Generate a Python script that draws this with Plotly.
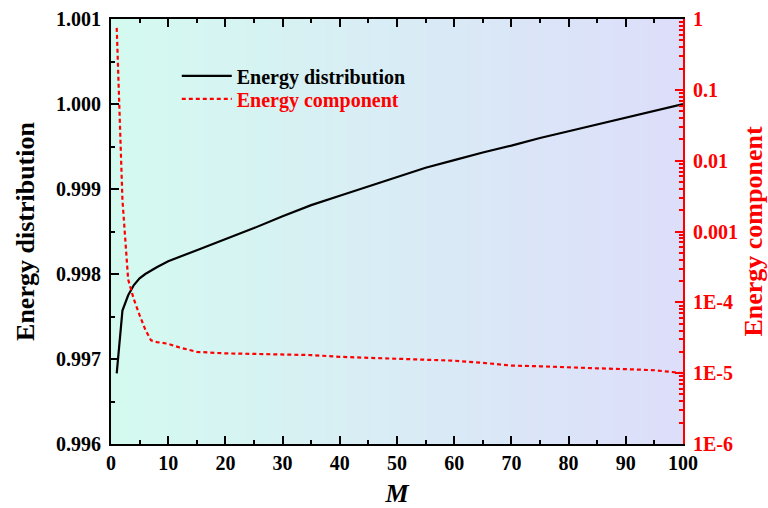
import plotly.graph_objects as go

# Cumulative energy distribution versus number of modes M
m_dist = [1, 2, 3, 4, 5, 6, 8, 10, 15, 20, 25, 30, 35, 40, 45, 50,
          55, 60, 65, 70, 75, 80, 85, 90, 95, 100]
energy_dist = [0.99683, 0.99757, 0.99775, 0.99787, 0.99795, 0.99800,
               0.99808, 0.99815, 0.99828, 0.99841, 0.99854, 0.99868,
               0.99881, 0.99892, 0.99903, 0.99914, 0.99925, 0.99934,
               0.99943, 0.99951, 0.99960, 0.99968, 0.99976, 0.99984,
               0.99992, 1.00000]

# Energy of each individual component (log scale)
m_comp = [1, 2, 3, 4, 5, 6, 7, 8, 10, 12, 15, 20, 25, 30, 35, 40, 45,
          50, 55, 60, 65, 70, 75, 80, 85, 90, 95, 100]
energy_comp = [0.75, 2.8e-3, 2.1e-4, 1.1e-4, 6.6e-5, 4.1e-5, 2.9e-5,
               2.75e-5, 2.6e-5, 2.3e-5, 2.0e-5, 1.9e-5, 1.87e-5, 1.85e-5,
               1.80e-5, 1.70e-5, 1.65e-5, 1.60e-5, 1.58e-5, 1.50e-5,
               1.40e-5, 1.28e-5, 1.25e-5, 1.20e-5, 1.17e-5, 1.14e-5,
               1.10e-5, 1.00e-5]

x_ticks = list(range(0, 101, 10))
left_ticks = [0.996, 0.997, 0.998, 0.999, 1.000, 1.001]
left_ticktext = ["0.996", "0.997", "0.998", "0.999", "1.000", "1.001"]
right_tickvals = [1e-6, 1e-5, 1e-4, 1e-3, 1e-2, 1e-1, 1]
right_ticktext = ["1E-6", "1E-5", "1E-4", "0.001", "0.01", "0.1", "1"]
right_minor = [k * 10.0 ** e for e in range(-6, 0) for k in range(2, 10)]

FONT = "Times New Roman, Liberation Serif, serif"
RED = "#ff0000"

fig = go.Figure()
fig.add_trace(go.Scatter(
    x=m_dist, y=energy_dist, mode="lines", name="Energy distribution",
    line=dict(color="black", width=2.2), yaxis="y", legend="legend"))
fig.add_trace(go.Scatter(
    x=m_comp, y=energy_comp, mode="lines",
    name="<span style='color:#ff0000'>Energy component</span>",
    line=dict(color=RED, width=2.2, dash="4px,3px"), yaxis="y2",
    legend="legend2"))
# invisible carrier for the minor log ticks on the right axis
fig.add_trace(go.Scatter(x=[None], y=[None], yaxis="y3", showlegend=False,
                         hoverinfo="skip"))

# horizontal colour gradient behind the plot area (mint -> lavender)
c0 = (212, 250, 240)
c1 = (221, 222, 250)
n = 80
shapes = []
for i in range(n):
    t = i / (n - 1)
    col = tuple(round(c0[j] + (c1[j] - c0[j]) * t) for j in range(3))
    shapes.append(dict(
        type="rect", xref="x domain", yref="y domain",
        x0=i / n, x1=(i + 1) / n + 0.002, y0=0, y1=1,
        fillcolor="rgb(%d,%d,%d)" % col, line=dict(width=0), layer="below"))

legend_style = dict(xanchor="left", yanchor="middle",
                    bgcolor="rgba(0,0,0,0)", itemwidth=50,
                    font=dict(family=FONT, size=20, color="black",
                              weight="bold"))

fig.update_layout(
    width=768, height=508,
    margin=dict(l=111, r=85, t=19, b=64, autoexpand=False),
    paper_bgcolor="white", plot_bgcolor="white",
    font=dict(family=FONT, size=20, color="black"),
    shapes=shapes,
    showlegend=True,
    legend=dict(x=0.115, y=0.866, **legend_style),
    legend2=dict(x=0.115, y=0.812, **legend_style),
    xaxis=dict(
        range=[0, 100], tickvals=x_ticks, showgrid=False, zeroline=False,
        showline=True, linecolor="black", linewidth=2, mirror="ticks",
        ticks="inside", ticklen=8, tickwidth=2, tickcolor="black",
        automargin=False,
        minor=dict(dtick=5, ticks="inside", ticklen=4, tickwidth=2,
                   tickcolor="black", showgrid=False),
        tickfont=dict(family=FONT, size=20, weight="bold"),
        title=dict(text="<b><i>M</i></b>", font=dict(family=FONT, size=26),
                   standoff=12),
    ),
    yaxis=dict(
        range=[0.996, 1.001], tickvals=left_ticks, ticktext=left_ticktext,
        showgrid=False, zeroline=False, showline=True, linecolor="black",
        linewidth=2, ticks="inside", ticklen=8, tickwidth=2,
        tickcolor="black", ticklabelstandoff=4, automargin=False,
        minor=dict(dtick=0.0005, tick0=0.996, ticks="inside", ticklen=4,
                   tickwidth=2, tickcolor="black", showgrid=False),
        tickfont=dict(family=FONT, size=20, weight="bold"),
        title=dict(text="<b>Energy distribution</b>",
                   font=dict(family=FONT, size=26), standoff=14),
    ),
    yaxis2=dict(
        type="log", range=[-6, 0], overlaying="y", side="right", anchor="x",
        tickvals=right_tickvals, ticktext=right_ticktext, showgrid=False,
        zeroline=False, showline=True, linecolor=RED, linewidth=2,
        ticks="inside", ticklen=8, tickwidth=2, tickcolor=RED,
        automargin=False, ticklabelstandoff=4,
        tickfont=dict(family=FONT, size=20, color=RED, weight="bold"),
        title=dict(text="<b>Energy component</b>",
                   font=dict(family=FONT, size=26, color=RED), standoff=12),
    ),
    yaxis3=dict(
        type="log", range=[-6, 0], overlaying="y", side="right", anchor="x",
        tickvals=right_minor, showticklabels=False, showgrid=False,
        zeroline=False, showline=False, ticks="inside", ticklen=4,
        tickwidth=1.5, tickcolor=RED, automargin=False,
    ),
)

fig.write_html("out.html")
